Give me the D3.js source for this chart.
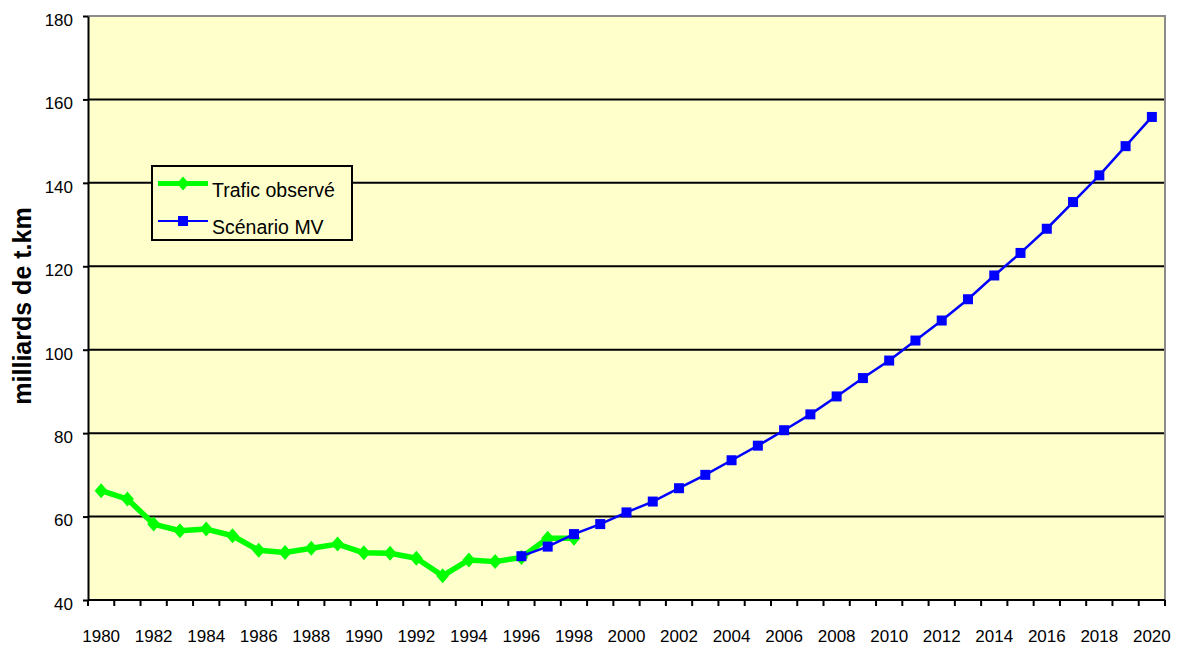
<!DOCTYPE html>
<html>
<head>
<meta charset="utf-8">
<script src="https://cdn.jsdelivr.net/npm/d3@7"></script>
<style>
  html, body { margin: 0; padding: 0; background: #ffffff; }
  svg { display: block; font-family: "Liberation Sans", Arial, sans-serif; }
</style>
</head>
<body>
<svg id="chart" width="1183" height="646"></svg>
<script>
// Years on the category axis
const years = d3.range(1980, 2021);

// Observed freight traffic, 1980–1998 (billion t.km)
const observedYears = d3.range(1980, 1999);
const observedValues = [66.2, 64.2, 58.2, 56.6, 57.0, 55.4, 51.9, 51.4, 52.4, 53.4,
                        51.3, 51.2, 50.0, 45.8, 49.6, 49.2, 50.2, 54.8, 54.8];

// "MV" scenario, 1996–2020 (billion t.km)
const scenarioYears = d3.range(1996, 2021);
const scenarioValues = [50.5, 52.8, 55.8, 58.2, 61.0, 63.6, 66.8, 70.0, 73.5, 77.0,
                        80.7, 84.5, 88.8, 93.2, 97.4, 102.2, 107.0, 112.1, 117.8, 123.2,
                        129.0, 135.4, 141.8, 148.8, 155.8];

const yTicks = [40, 60, 80, 100, 120, 140, 160, 180];
const xTickLabels = d3.range(1980, 2021, 2);

const seriesNames = ["Trafic observé", "Scénario MV"];
const yTitle = "milliards de t.km";

const margin = { left: 88, right: 1165, top: 16, bottom: 600 };
const svg = d3.select("#chart");

const x = d3.scaleBand().domain(years).range([margin.left, margin.right]);
const y = d3.scaleLinear().domain([40, 180]).range([margin.bottom, margin.top]);
const cx = yr => x(yr) + x.bandwidth() / 2;

// Plot background
svg.append("rect")
  .attr("x", margin.left).attr("y", margin.top)
  .attr("width", margin.right - margin.left).attr("height", margin.bottom - margin.top)
  .attr("fill", "#ffffcc");

// Horizontal gridlines
svg.append("g").selectAll("line")
  .data(yTicks.filter(v => v > 40 && v < 180))
  .join("line")
  .attr("x1", margin.left).attr("x2", margin.right)
  .attr("y1", d => y(d)).attr("y2", d => y(d))
  .attr("stroke", "#000").attr("stroke-width", 2);

// Top and right frame in grey
svg.append("path")
  .attr("d", `M${margin.left},${margin.top}H${margin.right}V${margin.bottom}`)
  .attr("fill", "none").attr("stroke", "#8c8c8c").attr("stroke-width", 2);

// Y axis
const yAxis = svg.append("g")
  .attr("transform", `translate(${margin.left},0)`)
  .call(d3.axisLeft(y).tickValues(yTicks).tickSize(5).tickPadding(10).tickSizeOuter(0));
yAxis.select(".domain").attr("stroke", "#000").attr("stroke-width", 2);
yAxis.selectAll(".tick line").attr("stroke", "#000").attr("stroke-width", 2);
yAxis.selectAll(".tick text")
  .attr("font-size", 17).attr("fill", "#000")
  .attr("font-family", "Liberation Sans, Arial, sans-serif")
  .attr("dy", "0.55em");

// X axis: ticks on category boundaries, labels every other year at category centres
const xg = svg.append("g");
xg.append("line")
  .attr("x1", margin.left).attr("x2", margin.right)
  .attr("y1", margin.bottom).attr("y2", margin.bottom)
  .attr("stroke", "#000").attr("stroke-width", 2);
xg.selectAll("line.tick")
  .data(years.concat([2021]))
  .join("line").attr("class", "tick")
  .attr("x1", d => d <= 2020 ? x(d) : margin.right)
  .attr("x2", d => d <= 2020 ? x(d) : margin.right)
  .attr("y1", margin.bottom).attr("y2", margin.bottom + 6)
  .attr("stroke", "#000").attr("stroke-width", 2);
xg.selectAll("text")
  .data(xTickLabels)
  .join("text")
  .attr("x", d => cx(d))
  .attr("y", 642)
  .attr("text-anchor", "middle")
  .attr("font-size", 17)
  .attr("fill", "#000")
  .text(d => d);

// Y axis title
svg.append("text")
  .attr("transform", `translate(31,306) rotate(-90)`)
  .attr("text-anchor", "middle")
  .attr("font-size", 25)
  .attr("font-weight", "bold")
  .attr("fill", "#000")
  .text(yTitle);

// Series
const observed = observedYears.map((yr, i) => ({ yr, v: observedValues[i] }));
const scenario = scenarioYears.map((yr, i) => ({ yr, v: scenarioValues[i] }));

const line = d3.line().x(d => cx(d.yr)).y(d => y(d.v));
const diamond = (px, py, w, h) => `M${px},${py - h}L${px + w},${py}L${px},${py + h}L${px - w},${py}Z`;

svg.append("path")
  .datum(observed)
  .attr("d", line)
  .attr("fill", "none")
  .attr("stroke", "#00ff00")
  .attr("stroke-width", 5.5)
  .attr("stroke-linejoin", "round");
svg.append("g").selectAll("path")
  .data(observed)
  .join("path")
  .attr("d", d => diamond(cx(d.yr), y(d.v), 6.5, 7.5))
  .attr("fill", "#00ff00");

svg.append("path")
  .datum(scenario)
  .attr("d", line)
  .attr("fill", "none")
  .attr("stroke", "#0000ff")
  .attr("stroke-width", 2.5);
svg.append("g").selectAll("rect")
  .data(scenario)
  .join("rect")
  .attr("x", d => cx(d.yr) - 5)
  .attr("y", d => y(d.v) - 5)
  .attr("width", 10).attr("height", 10)
  .attr("fill", "#0000ff");

// Legend
const lg = svg.append("g");
lg.append("rect")
  .attr("x", 152).attr("y", 166)
  .attr("width", 200).attr("height", 74)
  .attr("fill", "#ffffcc")
  .attr("stroke", "#000").attr("stroke-width", 2);

const leg = [
  { name: seriesNames[0], yy: 183.5, color: "#00ff00", w: 5, marker: "diamond" },
  { name: seriesNames[1], yy: 221, color: "#0000ff", w: 2, marker: "square" }
];
leg.forEach(s => {
  lg.append("line")
    .attr("x1", 158).attr("x2", 208)
    .attr("y1", s.yy).attr("y2", s.yy)
    .attr("stroke", s.color).attr("stroke-width", s.w);
  if (s.marker === "diamond") {
    lg.append("path").attr("d", diamond(183, s.yy, 6, 7)).attr("fill", s.color);
  } else {
    lg.append("rect").attr("x", 178).attr("y", s.yy - 5)
      .attr("width", 10).attr("height", 10).attr("fill", s.color);
  }
  lg.append("text")
    .attr("x", 212).attr("y", s.yy + 13)
    .attr("font-size", 19.5)
    .attr("fill", "#000")
    .text(s.name);
});
</script>
</body>
</html>
